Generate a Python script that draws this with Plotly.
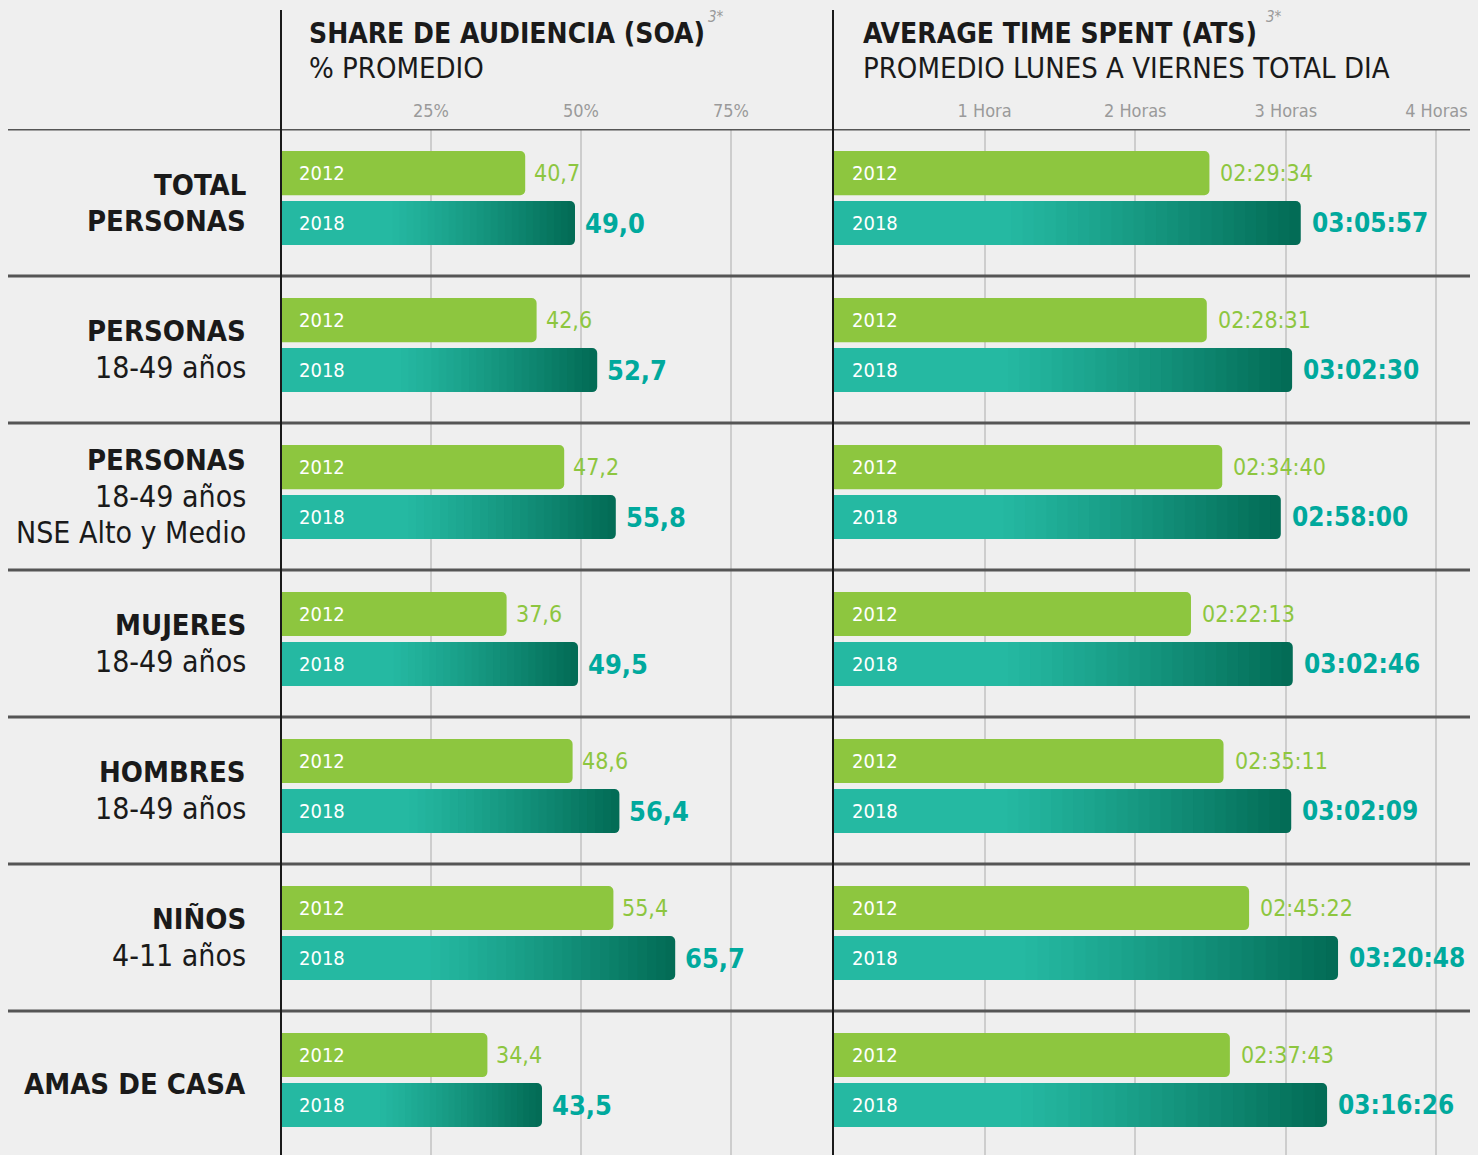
import plotly.graph_objects as go

# ---------------- data ----------------
categories = [
    ["<b>TOTAL</b>", "<b>PERSONAS</b>"],
    ["<b>PERSONAS</b>", "18-49 años"],
    ["<b>PERSONAS</b>", "18-49 años", "NSE Alto y Medio"],
    ["<b>MUJERES</b>", "18-49 años"],
    ["<b>HOMBRES</b>", "18-49 años"],
    ["<b>NIÑOS</b>", "4-11 años"],
    ["<b>AMAS DE CASA</b>"],
]
years = ["2012", "2018"]
soa_2012 = [40.7, 42.6, 47.2, 37.6, 48.6, 55.4, 34.4]
soa_2018 = [49.0, 52.7, 55.8, 49.5, 56.4, 65.7, 43.5]
ats_2012 = ["02:29:34", "02:28:31", "02:34:40", "02:22:13", "02:35:11", "02:45:22", "02:37:43"]
ats_2018 = ["03:05:57", "03:02:30", "02:58:00", "03:02:46", "03:02:09", "03:20:48", "03:16:26"]
soa_tickvals = [25, 50, 75]
soa_ticktext = ["25%", "50%", "75%"]
ats_tick_hours = [1, 2, 3, 4]
ats_ticktext = ["1 Hora", "2 Horas", "3 Horas", "4 Horas"]

# ---------------- style ----------------
W, H = 1478, 1155
FONT = "DejaVu Sans Condensed, Liberation Sans Narrow, sans-serif"
GREEN = "#8dc63f"
TEAL_TXT = "#00a99d"
LIGHT = (37, 185, 162)
DARK = (3, 108, 86)
GRID = "#cdcdcd"


def px_x(p):
    return p / W


def px_y(p):
    return 1 - p / H


def to_sec(s):
    h, m, sec = [int(v) for v in s.split(":")]
    return h * 3600 + m * 60 + sec


ats_2012_s = [to_sec(s) for s in ats_2012]
ats_2018_s = [to_sec(s) for s in ats_2018]

n = len(categories)
idx = list(range(n))
OFF12, OFF18, BW = -0.20, 0.14, 0.30
y12 = [i + OFF12 for i in idx]
y18 = [i + OFF18 for i in idx]

fig = go.Figure()


def add_panel(vals12, vals18, xa):
    fig.add_trace(go.Bar(
        x=vals12, y=y12, orientation="h", width=BW,
        marker=dict(color=GREEN, line=dict(width=0)),
        xaxis=xa, yaxis="y", showlegend=False, hoverinfo="skip"))
    # gradient 2018 bars: overlapping bars, longest (darkest) first
    steps = 26
    for k in range(steps + 1):
        f = 1 - k * (0.62 / steps)           # fraction of bar length, 1 -> 0.38
        t = (f - 0.38) / 0.62
        t = max(0.0, min(1.0, t)) ** 1.15
        c = tuple(int(LIGHT[j] + (DARK[j] - LIGHT[j]) * t) for j in range(3))
        fig.add_trace(go.Bar(
            x=[v * f for v in vals18], y=y18, orientation="h", width=BW,
            marker=dict(color="rgb(%d,%d,%d)" % c, line=dict(width=0)),
            xaxis=xa, yaxis="y", showlegend=False, hoverinfo="skip"))


add_panel(soa_2012, soa_2018, "x")
add_panel(ats_2012_s, ats_2018_s, "x2")

ann = []
fmt_pct = lambda v: ("%.1f" % v).replace(".", ",")
for i in idx:
    for xa in ("x", "x2"):
        for yy, yr in [(y12[i], years[0]), (y18[i], years[1])]:
            ann.append(dict(x=0, y=yy, xref=xa, yref="y", text=yr, showarrow=False,
                            xanchor="left", xshift=16,
                            font=dict(family=FONT, size=20, color="white")))
    ann.append(dict(x=soa_2012[i], y=y12[i], xref="x", yref="y", text=fmt_pct(soa_2012[i]),
                    showarrow=False, xanchor="left", xshift=7,
                    font=dict(family=FONT, size=23, color=GREEN)))
    ann.append(dict(x=soa_2018[i], y=y18[i], xref="x", yref="y", text="<b>%s</b>" % fmt_pct(soa_2018[i]),
                    showarrow=False, xanchor="left", xshift=8,
                    font=dict(family=FONT, size=27, color=TEAL_TXT)))
    ann.append(dict(x=ats_2012_s[i], y=y12[i], xref="x2", yref="y", text=ats_2012[i],
                    showarrow=False, xanchor="left", xshift=9,
                    font=dict(family=FONT, size=23, color=GREEN)))
    ann.append(dict(x=ats_2018_s[i], y=y18[i], xref="x2", yref="y", text="<b>%s</b>" % ats_2018[i],
                    showarrow=False, xanchor="left", xshift=9,
                    font=dict(family=FONT, size=26, color=TEAL_TXT)))
    lines = categories[i]
    nl = len(lines)
    for k, ln in enumerate(lines):
        bold = ln.startswith("<b>")
        ann.append(dict(x=px_x(248), y=i, xref="paper", yref="y", text=ln, showarrow=False,
                        xanchor="right", yshift=-(k - (nl - 1) / 2) * 36,
                        font=dict(family=FONT, size=29 if bold else 30, color="#1a1a1a")))

hdr = [
    (307, 33, "<b>SHARE DE AUDIENCIA (SOA)</b>", 28),
    (307, 68, "% PROMEDIO", 29),
    (861, 33, "<b>AVERAGE TIME SPENT (ATS)</b>", 28),
    (861, 68, "PROMEDIO LUNES A VIERNES TOTAL DIA", 29),
]
for x, y, t, s in hdr:
    ann.append(dict(x=px_x(x), y=px_y(y), xref="paper", yref="paper", text=t, showarrow=False,
                    xanchor="left", yanchor="middle", font=dict(family=FONT, size=s, color="#1a1a1a")))
for x in (716, 1274):
    ann.append(dict(x=px_x(x), y=px_y(17), xref="paper", yref="paper", text="<i>3*</i>", showarrow=False,
                    xanchor="center", yanchor="middle", font=dict(family=FONT, size=15, color="#9a9a9a")))

shapes = []
for i in idx:
    shapes.append(dict(type="line", xref="paper", yref="y", x0=px_x(8), x1=px_x(1470),
                       y0=i - 0.5, y1=i - 0.5, line=dict(color="#555555", width=3), layer="above"))
for x in (281, 833):
    shapes.append(dict(type="line", xref="paper", yref="paper", x0=px_x(x), x1=px_x(x),
                       y0=0, y1=px_y(10), line=dict(color="#1a1a1a", width=2), layer="above"))

tickfont = dict(family=FONT, size=18, color="#9a9a9a")
fig.update_layout(
    width=W, height=H,
    margin=dict(l=0, r=0, t=0, b=0),
    paper_bgcolor="#efefef",
    plot_bgcolor="rgba(0,0,0,0)",
    barmode="overlay",
    barcornerradius=5,
    annotations=ann,
    shapes=shapes,
    xaxis=dict(domain=[px_x(281), px_x(833)], range=[0, 92], side="top",
               tickvals=soa_tickvals, ticktext=soa_ticktext, tickfont=tickfont,
               showgrid=True, gridcolor=GRID, gridwidth=1.5, zeroline=False, showline=False,
               ticks="", ticklabelstandoff=7, fixedrange=True),
    xaxis2=dict(domain=[px_x(834), 1], range=[0, 4.276 * 3600], side="top", anchor="y",
                tickvals=[h * 3600 for h in ats_tick_hours], ticktext=ats_ticktext, tickfont=tickfont,
                showgrid=True, gridcolor=GRID, gridwidth=1.5, zeroline=False, showline=False,
                ticks="", ticklabelstandoff=7, fixedrange=True),
    yaxis=dict(domain=[0, px_y(129)], range=[6.48, -0.5], visible=False, fixedrange=True),
)

fig.write_html("out.html", config={"displayModeBar": False},
               post_script="document.body.style.margin='0';document.body.style.padding='0';")
